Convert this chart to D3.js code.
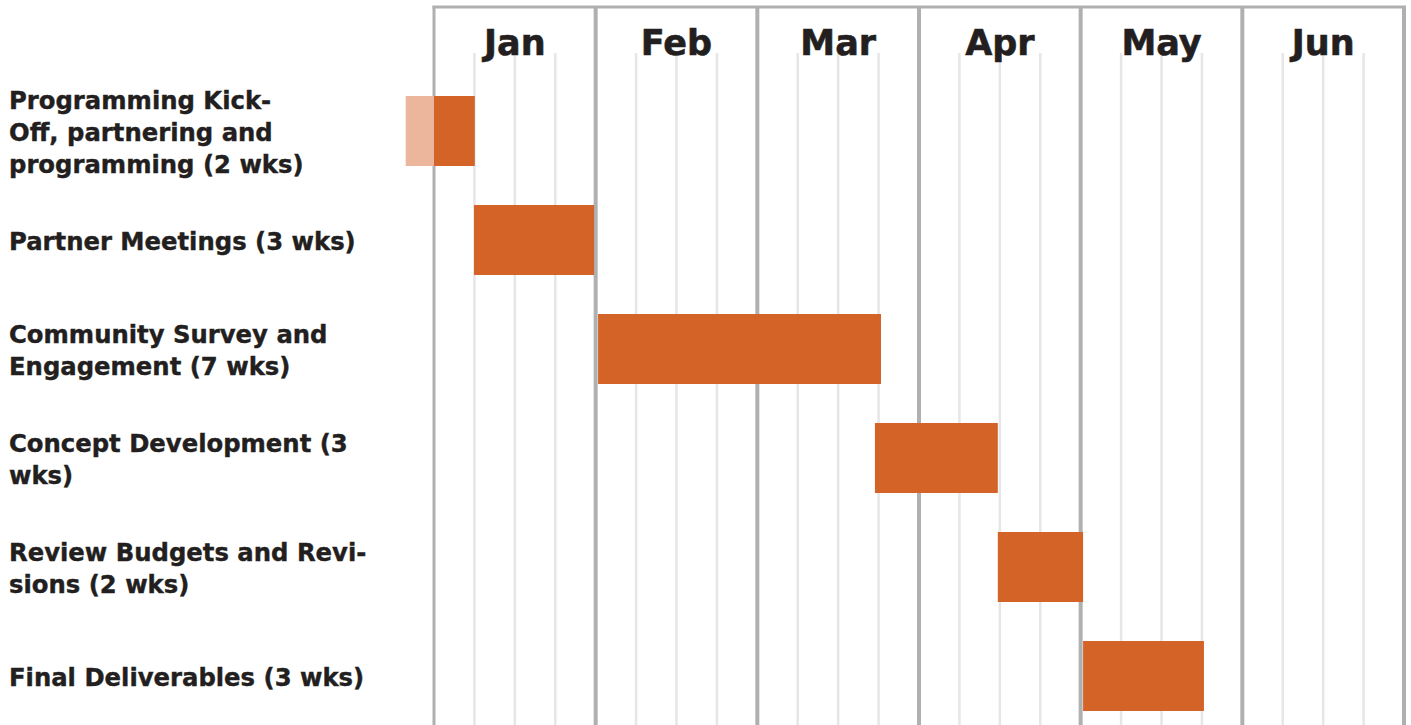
<!DOCTYPE html>
<html>
<head>
<meta charset="utf-8">
<script src="https://cdn.jsdelivr.net/npm/d3@7"></script>
<style>
  html, body { margin: 0; padding: 0; background: #fff; }
  svg text { font-family: "DejaVu Sans", Inter, sans-serif; fill: #231f20; }
</style>
</head>
<body>
<svg id="chart" width="1411" height="725"></svg>
<script>
// months along the top, one column each, 4 weeks per month
var months = ["Jan", "Feb", "Mar", "Apr", "May", "Jun"];
var weeksPerMonth = 4;

// tasks (label lines split as in the original)
var taskLabels = [
	"Programming Kick-\nOff, partnering and\nprogramming (2 wks)",
	"Partner Meetings (3 wks)",
	"Community Survey and\nEngagement (7 wks)",
	"Concept Development (3\nwks)",
	"Review Budgets and Revi-\nsions (2 wks)",
	"Final Deliverables (3 wks)"
];
// start / end in weeks from Jan 1st (negative = before the chart)
var taskStart = [-0.7, 0.99, 4.06, 10.91, 13.95, 16.06];
var taskEnd   = [1.01, 3.96, 11.06, 13.95, 16.06, 19.05];

var barColor = "#d46327";
var preColor = "#ecb69c";

var svg = d3.select("#chart");
var W = 1411, H = 725;

var totalWeeks = months.length * weeksPerMonth;
var x = d3.scaleLinear().domain([0, totalWeeks]).range([434, 1404]);
var y = d3.scalePoint().domain(d3.range(taskLabels.length)).range([131, 676]);
var barH = 70;

/* ------- GRID -------*/
var weeks = d3.range(0, totalWeeks + 1).filter(function(w) { return w % weeksPerMonth != 0; });

svg.append("g").attr("class", "weeks").selectAll("line")
	.data(weeks)
	.enter().append("line")
	.attr("x1", function(d) { return x(d); })
	.attr("x2", function(d) { return x(d); })
	.attr("y1", 53)
	.attr("y2", H)
	.style("stroke", "#e6e6e6")
	.style("stroke-width", 2.5);

var monthEdges = d3.range(0, months.length + 1).map(function(m) { return m * weeksPerMonth; });

svg.append("g").attr("class", "months").selectAll("line")
	.data(monthEdges)
	.enter().append("line")
	.attr("x1", function(d) { return x(d); })
	.attr("x2", function(d) { return x(d); })
	.attr("y1", 6)
	.attr("y2", H)
	.style("stroke", "#b0b0b0")
	.style("stroke-width", function(d, i) { return (i == 0) ? 3 : 4; });

svg.append("line")
	.attr("x1", x(0) - 1.5).attr("x2", x(totalWeeks) + 2)
	.attr("y1", 7).attr("y2", 7)
	.style("stroke", "#b0b0b0")
	.style("stroke-width", 3);

svg.append("g").attr("class", "monthLabels").selectAll("text")
	.data(months)
	.enter().append("text")
	.attr("x", function(d, i) { return x((i + 0.5) * weeksPerMonth); })
	.attr("y", 55)
	.attr("text-anchor", "middle")
	.attr("font-size", "35px")
	.attr("font-weight", 700)
	.style("stroke", "#231f20")
	.style("stroke-width", 0.6)
	.text(function(d) { return d; });

/* ------- BARS -------*/
var tasks = taskLabels.map(function(l, i) {
	return {label: l, start: taskStart[i], end: taskEnd[i], i: i};
});

var bars = svg.append("g").attr("class", "bars");

// part that falls before the chart starts, drawn lighter
bars.selectAll("rect.pre")
	.data(tasks.filter(function(d) { return d.start < 0; }))
	.enter().append("rect")
	.attr("class", "pre")
	.attr("x", function(d) { return x(d.start); })
	.attr("width", function(d) { return x(Math.min(0, d.end)) - x(d.start); })
	.attr("y", function(d) { return y(d.i) - barH / 2; })
	.attr("height", barH)
	.style("fill", preColor);

bars.selectAll("rect.bar")
	.data(tasks.filter(function(d) { return d.end > 0; }))
	.enter().append("rect")
	.attr("class", "bar")
	.attr("x", function(d) { return x(Math.max(0, d.start)); })
	.attr("width", function(d) { return x(d.end) - x(Math.max(0, d.start)); })
	.attr("y", function(d) { return y(d.i) - barH / 2; })
	.attr("height", barH)
	.style("fill", barColor);

/* ------- TASK LABELS -------*/
var lineH = 32;
var labels = svg.append("g").attr("class", "labels").selectAll("text")
	.data(tasks)
	.enter().append("text")
	.attr("font-size", "24.3px")
	.attr("font-weight", 700)
	.attr("dominant-baseline", "central")
	.style("stroke", "#231f20")
	.style("stroke-width", 0.4);

labels.each(function(d) {
	var lines = d.label.split("\n");
	var top = y(d.i) + 1 - (lines.length - 1) * lineH / 2;
	d3.select(this).selectAll("tspan")
		.data(lines)
		.enter().append("tspan")
		.attr("x", 9)
		.attr("y", function(l, k) { return top + k * lineH; })
		.text(function(l) { return l; });
});
</script>
</body>
</html>
